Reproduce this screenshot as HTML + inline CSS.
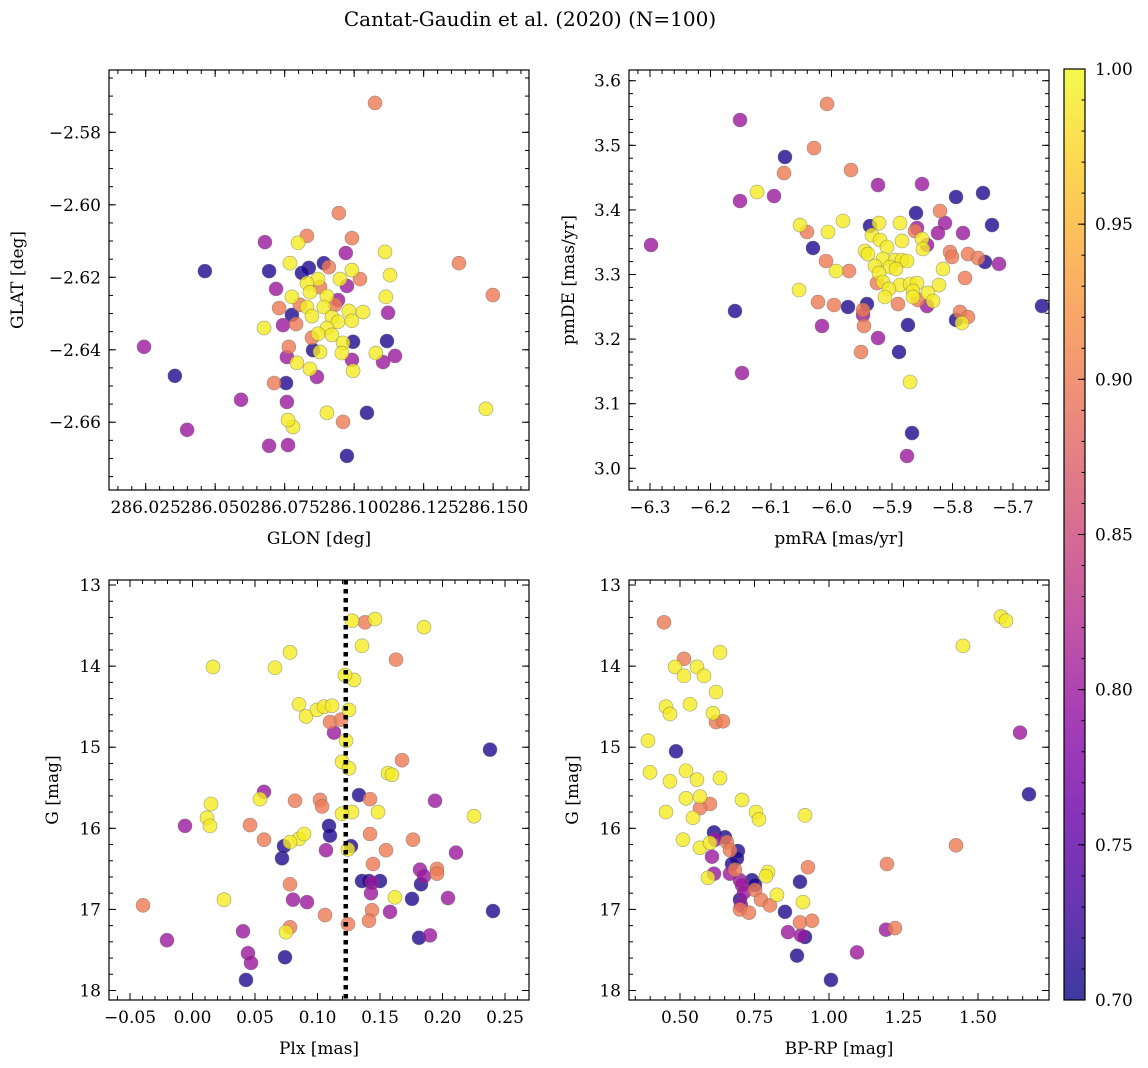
<!DOCTYPE html>
<html><head><meta charset="utf-8"><title>Cantat-Gaudin et al. (2020)</title>
<style>
html,body{margin:0;padding:0;background:#fff;}
svg{display:block;font-family:"DejaVu Serif","Liberation Serif",serif;}
</style></head>
<body>
<svg id="fig" xmlns="http://www.w3.org/2000/svg" width="1148" height="1068" viewBox="0 0 1148 1068">
<rect width="1148" height="1068" fill="#fff"/>
<text x="530" y="26" font-size="20" text-anchor="middle">Cantat-Gaudin et al. (2020) (N=100)</text>
</svg>
<script>
// ---------- Panel 1: GLON / GLAT ----------
const p1Lon=[286.1075,286.0945,286.0992,286.0679,286.0798,286.083,286.097,286.1111,286.0463,286.0694,286.0769,286.0837,286.0812,286.0891,286.0909,286.0992,286.1021,286.0949,286.087,286.083,286.1129,286.1377,286.1499,286.0719,286.0974,286.0841,286.0877,286.1114,286.0776,286.0902,286.0942,286.073,286.0805,286.083,286.0891,286.0931,286.0981,286.1032,286.1122,286.0776,286.0848,286.092,286.0942,286.0992,286.0676,286.0744,286.0791,286.0902,286.087,286.092,286.0848,286.096,286.0996,286.1118,286.0765,286.0852,286.0877,286.0956,286.1078,286.1147,286.1104,286.0758,286.0992,286.0794,286.0841,286.0996,286.0866,286.0244,286.0355,286.0399,286.0593,286.0694,286.0762,286.0758,286.078,286.0762,286.0902,286.096,286.0974,286.1046,286.1474,286.0755,286.0712];
const p1Lat=[-2.5719,-2.6023,-2.6092,-2.6103,-2.6105,-2.6086,-2.6133,-2.613,-2.6183,-2.6183,-2.6161,-2.6174,-2.6188,-2.6161,-2.6172,-2.618,-2.6205,-2.6205,-2.6205,-2.6216,-2.6194,-2.6161,-2.6249,-2.6232,-2.6224,-2.6241,-2.6227,-2.6254,-2.6254,-2.6252,-2.6263,-2.6285,-2.6276,-2.6282,-2.6282,-2.6276,-2.6293,-2.6296,-2.6298,-2.6304,-2.6307,-2.631,-2.6323,-2.632,-2.634,-2.6332,-2.6329,-2.634,-2.6356,-2.6359,-2.6367,-2.6381,-2.6378,-2.6376,-2.6392,-2.6401,-2.6406,-2.6409,-2.6409,-2.6417,-2.6434,-2.642,-2.6428,-2.6436,-2.6453,-2.6458,-2.6475,-2.6392,-2.6472,-2.6621,-2.6538,-2.6665,-2.6663,-2.6544,-2.6613,-2.6594,-2.6574,-2.6599,-2.6693,-2.6574,-2.6563,-2.6492,-2.6492];
const p1Prob=[0.9,0.9,0.9,0.8,0.99,0.9,0.8,0.99,0.71,0.71,0.99,0.71,0.71,0.71,0.9,0.99,0.9,0.99,0.99,0.99,0.99,0.9,0.9,0.8,0.8,0.99,0.9,0.99,0.99,0.99,0.8,0.9,0.9,0.99,0.99,0.9,0.99,0.99,0.8,0.71,0.99,0.99,0.99,0.99,0.99,0.8,0.9,0.99,0.99,0.99,0.9,0.99,0.71,0.71,0.9,0.71,0.99,0.99,0.99,0.8,0.8,0.8,0.8,0.99,0.99,0.99,0.8,0.8,0.71,0.8,0.8,0.8,0.8,0.8,0.99,0.99,0.99,0.9,0.71,0.71,0.99,0.71,0.9];
const p1XTicks=[286.025,286.05,286.075,286.1,286.125,286.15];
const p1YTicks=[-2.58,-2.6,-2.62,-2.64,-2.66];

// ---------- Panel 2: pmRA / pmDE ----------
const p2Pmra=[-6.052,-6.0405,-6.0058,-5.981,-5.9364,-5.9215,-5.8868,-5.8603,-5.8207,-5.7942,-5.8587,-5.862,-5.8124,-5.824,-5.7826,-5.9331,-5.9198,-5.9083,-5.8835,-5.8504,-5.8421,-5.8488,-6.0306,-5.9446,-5.9397,-5.8041,-5.8008,-5.7744,-5.7579,-5.9149,-5.895,-5.8835,-5.8752,-6.0091,-5.9281,-5.9033,-5.8934,-5.8157,-5.9926,-5.9711,-5.9215,-5.7793,-5.9248,-5.9149,-5.8868,-5.8702,-5.8587,-5.8223,-5.905,-6.0537,-5.8653,-5.8405,-5.9116,-5.8653,-6.0223,-5.9959,-5.8901,-5.857,-5.8322,-5.8421,-5.9727,-5.9413,-5.9479,-5.9479,-5.7876,-5.7744,-5.7843,-5.7942,-6.0157,-5.9463,-5.8736,-5.9231,-6.2983,-6.1512,-6.0074,-6.1512,-6.0289,-6.0769,-6.0785,-5.9678,-5.9231,-5.8504,-6.095,-6.1231,-5.7496,-5.7347,-5.7463,-5.7231,-5.6521,-6.1595,-6.1479,-5.8884,-5.9512,-5.8702,-5.8669,-5.8752];
const p2Pmde=[3.3766,3.3658,3.3658,3.3828,3.3751,3.3797,3.3797,3.3952,3.3983,3.42,3.372,3.3673,3.3797,3.3642,3.3642,3.3611,3.3534,3.3426,3.3519,3.355,3.3457,3.3395,3.341,3.3364,3.3317,3.3348,3.3271,3.3317,3.3255,3.324,3.3224,3.3224,3.3209,3.3209,3.3132,3.3116,3.3085,3.3085,3.3054,3.3054,3.3023,3.2946,3.2868,3.2884,3.2837,3.2853,3.2868,3.2837,3.2776,3.276,3.2745,3.2714,3.2652,3.2652,3.2574,3.2528,3.2543,3.2605,3.259,3.2512,3.2497,3.2543,3.245,3.2373,3.242,3.2342,3.2249,3.2296,3.2203,3.2203,3.2218,3.2017,3.3457,3.4138,3.564,3.5392,3.4958,3.4819,3.4571,3.4618,3.4385,3.4401,3.4215,3.4277,3.4262,3.3766,3.3194,3.3163,3.2512,3.2435,3.1475,3.18,3.18,3.1336,3.0546,3.019];
const p2Prob=[0.99,0.9,0.99,0.99,0.71,0.99,0.99,0.71,0.9,0.71,0.8,0.9,0.8,0.8,0.8,0.99,0.99,0.99,0.99,0.99,0.8,0.99,0.71,0.99,0.99,0.9,0.9,0.9,0.9,0.99,0.99,0.99,0.99,0.9,0.99,0.99,0.99,0.99,0.99,0.9,0.99,0.9,0.9,0.99,0.99,0.99,0.99,0.99,0.99,0.99,0.99,0.99,0.99,0.99,0.9,0.9,0.9,0.9,0.99,0.8,0.71,0.71,0.9,0.8,0.9,0.9,0.99,0.71,0.8,0.9,0.71,0.8,0.8,0.8,0.9,0.8,0.9,0.71,0.9,0.9,0.8,0.8,0.8,0.99,0.71,0.71,0.71,0.8,0.71,0.71,0.8,0.71,0.9,0.99,0.71,0.8];
const p2XTicks=[-6.3,-6.2,-6.1,-6.0,-5.9,-5.8,-5.7];
const p2YTicks=[3.0,3.1,3.2,3.3,3.4,3.5,3.6];

// ---------- Panel 3: Plx / G ----------
const p3Plx=[0.0164,0.066,0.078,0.1276,0.146,0.1852,0.1356,0.1292,0.0852,0.0908,0.0996,0.1052,0.1116,0.122,0.1196,0.1252,0.1228,0.1276,0.0148,0.0116,0.014,0.0252,0.0748,0.0852,0.0892,0.078,0.054,0.1564,0.1596,0.1484,0.1244,0.1196,0.162,0.2252,0.1252,
-0.0396,0.138,0.1628,0.11,0.1188,0.1676,0.0572,0.046,0.082,0.102,0.1036,0.142,0.142,0.1444,0.1548,0.1436,0.1764,0.1956,0.1956,0.106,0.1412,0.1244,0.078,0.078,
-0.0204,0.0404,0.0444,0.0468,0.0572,-0.006,0.0804,0.0916,0.1068,0.1132,0.1436,0.1428,0.158,0.182,0.19,0.194,0.2108,0.2044,0.1852,
0.238,0.2404,0.1092,0.11,0.0716,0.0732,0.1268,0.1332,0.1356,0.1412,0.15,0.1756,0.1828,0.1812,0.0428,0.074];
const p3G=[14.01,14.02,13.83,13.44,13.42,13.52,13.75,14.17,14.47,14.62,14.54,14.5,14.49,14.11,15.18,15.26,14.92,15.8,15.7,15.87,15.97,16.88,17.28,16.13,16.07,16.17,15.64,15.32,15.34,15.8,16.26,15.82,16.85,15.85,14.54,
16.95,13.46,13.92,14.69,14.66,15.16,16.14,15.96,15.66,15.65,15.73,15.64,16.07,16.44,16.27,17.01,16.14,16.5,16.56,17.07,17.14,17.18,17.22,16.69,
17.38,17.27,17.54,17.66,15.55,15.97,16.88,16.91,16.27,14.82,16.67,16.8,17.03,16.51,17.32,15.66,16.3,16.86,16.59,
15.03,17.02,15.97,16.09,16.37,16.22,16.22,15.59,16.65,16.65,16.65,16.87,16.69,17.35,17.87,17.59];
const p3Prob=[0.99,0.99,0.99,0.99,0.99,0.99,0.99,0.99,0.99,0.99,0.99,0.99,0.99,0.99,0.99,0.99,0.99,0.99,0.99,0.99,0.99,0.99,0.99,0.99,0.99,0.99,0.99,0.99,0.99,0.99,0.99,0.99,0.99,0.99,0.99,
0.9,0.9,0.9,0.9,0.9,0.9,0.9,0.9,0.9,0.9,0.9,0.9,0.9,0.9,0.9,0.9,0.9,0.9,0.9,0.9,0.9,0.9,0.9,0.9,
0.8,0.8,0.8,0.8,0.8,0.8,0.8,0.8,0.8,0.8,0.8,0.8,0.8,0.8,0.8,0.8,0.8,0.8,0.8,
0.71,0.71,0.71,0.71,0.71,0.71,0.71,0.71,0.71,0.71,0.71,0.71,0.71,0.71,0.71,0.71];
const p3XTicks=[-0.05,0.0,0.05,0.1,0.15,0.2,0.25];
const p3YTicks=[13,14,15,16,17,18];
const p3PlxCut=[0.1226];

// ---------- Panel 4: BP-RP / G ----------
const p4Bprp=[0.3926,0.3993,0.453,0.4664,0.4664,0.453,0.4832,0.5134,0.5336,0.5201,0.5201,0.5101,0.557,0.557,0.5671,0.5436,0.5805,0.6342,0.6107,0.6208,0.6342,0.7081,0.755,0.7651,0.7953,0.7886,0.8255,0.9195,0.9128,1.5772,1.594,1.4497,0.5671,0.6007,0.594,
0.4463,0.5134,0.6208,0.6443,0.6007,0.6577,0.6678,0.6846,0.7517,0.7013,0.7315,0.9027,0.943,0.9295,1.1946,1.4262,0.5671,0.7718,0.802,1.2215,
1.641,0.6074,0.6141,0.6678,0.7013,0.7081,0.7148,0.8624,0.906,1.094,1.1913,0.6174,0.7047,
1.6711,0.4866,0.6141,0.651,0.6946,0.6913,0.7416,0.7517,0.7013,0.9027,0.8926,0.9195,1.0067,0.6745,0.8523];
const p4G=[14.92,15.31,14.5,14.59,15.42,15.8,14.01,14.12,14.47,15.29,15.63,16.14,14.01,15.4,15.61,15.87,14.12,13.83,14.58,14.32,15.38,15.65,15.8,15.89,16.54,16.59,16.82,15.84,16.91,13.39,13.44,13.75,16.24,16.18,16.61,
13.46,13.91,14.69,14.68,15.7,16.17,16.27,16.51,16.76,17.0,17.04,17.16,17.14,16.48,16.44,16.21,15.75,16.88,16.95,17.23,
14.82,16.35,16.56,16.56,16.64,16.7,16.79,17.28,17.32,17.53,17.25,16.14,16.95,
15.58,15.05,16.05,16.11,16.28,16.37,16.64,16.7,16.88,16.66,17.57,17.34,17.87,16.44,17.03];
const p4Prob=[0.99,0.99,0.99,0.99,0.99,0.99,0.99,0.99,0.99,0.99,0.99,0.99,0.99,0.99,0.99,0.99,0.99,0.99,0.99,0.99,0.99,0.99,0.99,0.99,0.99,0.99,0.99,0.99,0.99,0.99,0.99,0.99,0.99,0.99,0.99,
0.9,0.9,0.9,0.9,0.9,0.9,0.9,0.9,0.9,0.9,0.9,0.9,0.9,0.9,0.9,0.9,0.9,0.9,0.9,0.9,
0.8,0.8,0.8,0.8,0.8,0.8,0.8,0.8,0.8,0.8,0.8,0.8,0.8,
0.71,0.71,0.71,0.71,0.71,0.71,0.71,0.71,0.71,0.71,0.71,0.71,0.71,0.71,0.71];
const p4XTicks=[0.5,0.75,1.0,1.25,1.5];
const p4YTicks=[13,14,15,16,17,18];

// ---------- Colorbar ----------
const cbTicks=[0.70,0.75,0.80,0.85,0.90,0.95,1.00];
const cbRange=[0.7,1.0];

// ---------- helpers ----------
const NS='http://www.w3.org/2000/svg';
const svg=document.getElementById('fig');
const TF=17;
function mk(tag,attrs,parent){const e=document.createElementNS(NS,tag);for(const k in attrs)e.setAttribute(k,attrs[k]);(parent||svg).appendChild(e);return e;}
function lin(d0,d1,r0,r1){return v=>r0+(v-d0)/(d1-d0)*(r1-r0);}
const plasma=[[13,8,135],[65,4,157],[106,0,168],[143,13,164],[177,42,144],[204,71,120],[225,100,98],[242,132,75],[252,166,54],[252,206,37],[240,249,33]];
function cmap(t){t=Math.max(0,Math.min(1,t));const s=t*10,i=Math.min(9,Math.floor(s)),f=s-i;const a=plasma[i],b=plasma[i+1];return 'rgb('+[0,1,2].map(k=>Math.round(a[k]+(b[k]-a[k])*f)).join(',')+')';}
function fmtMinus(s){return s.replace('-','\u2212');}

function panel(o){
  const g=mk('g',{});
  
  
  const sx=lin(o.xd[0],o.xd[1],o.x0,o.x1), sy=lin(o.yd[0],o.yd[1],o.y0,o.y1);
  const pts=mk('g',{},g);
  
  
  const idx=o.xs.map((_,i)=>i).sort((a,b)=>o.cs[a]-o.cs[b]);
  idx.forEach(i=>{
    const c=mk('circle',{cx:sx(o.xs[i]),cy:sy(o.ys[i]),r:7,fill:cmap((o.cs[i]-cbRange[0])/(cbRange[1]-cbRange[0])),'fill-opacity':0.8,stroke:'#666','stroke-opacity':0.6,'stroke-width':0.6},pts);
    
    
  });
  if(o.extra) o.extra(g,sx,sy);
  const fr=mk('rect',{x:o.x0,y:o.y0,width:o.x1-o.x0,height:o.y1-o.y0,fill:'none',stroke:'#000','stroke-width':1.2},g);
  
  
  const tk=mk('g',{stroke:'#000','stroke-width':1},g);
  
  
  const lo=Math.min(o.xd[0],o.xd[1]),hi=Math.max(o.xd[0],o.xd[1]);
  for(let k=Math.ceil(lo/o.xm-1e-6);k*o.xm<=hi+1e-9;k++){const X=sx(k*o.xm);mk('line',{x1:X,x2:X,y1:o.y1,y2:o.y1-4},tk);mk('line',{x1:X,x2:X,y1:o.y0,y2:o.y0+4},tk);}
  const ylo=Math.min(o.yd[0],o.yd[1]),yhi=Math.max(o.yd[0],o.yd[1]);
  for(let k=Math.ceil(ylo/o.ym-1e-6);k*o.ym<=yhi+1e-9;k++){const Y=sy(k*o.ym);mk('line',{x1:o.x0,x2:o.x0+4,y1:Y,y2:Y},tk);mk('line',{x1:o.x1,x2:o.x1-4,y1:Y,y2:Y},tk);}
  o.xt.forEach(v=>{const X=sx(v);mk('line',{x1:X,x2:X,y1:o.y1,y2:o.y1-7},tk);mk('line',{x1:X,x2:X,y1:o.y0,y2:o.y0+7},tk);
    const t=mk('text',{x:X,y:o.y1+23,'font-size':TF,'text-anchor':'middle'},g);t.textContent=fmtMinus(o.xf(v));
    
    });
  o.yt.forEach(v=>{const Y=sy(v);mk('line',{x1:o.x0,x2:o.x0+7,y1:Y,y2:Y},tk);mk('line',{x1:o.x1,x2:o.x1-7,y1:Y,y2:Y},tk);
    const t=mk('text',{x:o.x0-8,y:Y+6,'font-size':TF,'text-anchor':'end'},g);t.textContent=fmtMinus(o.yf(v));
    
    });
  const xl=mk('text',{x:(o.x0+o.x1)/2,y:o.y1+54,'font-size':17,'text-anchor':'middle'},g);xl.textContent=o.xlabel;
  
  
  const yl=mk('text',{x:0,y:0,'font-size':17,'text-anchor':'middle',transform:'translate('+o.ylx+','+((o.y0+o.y1)/2)+') rotate(-90)'},g);yl.textContent=o.ylabel;
  
  
}

panel({name:'glon-glat-panel',x0:109,x1:529,y0:70,y1:490,xd:[286.0118,286.1629],yd:[-2.5628,-2.6787],
  xt:p1XTicks,yt:p1YTicks,xm:0.005,ym:0.005,xf:v=>v.toFixed(3),yf:v=>v.toFixed(2),
  xlabel:'GLON [deg]',ylabel:'GLAT [deg]',ylx:23,xs:p1Lon,ys:p1Lat,cs:p1Prob});
panel({name:'pm-panel',x0:629,x1:1049,y0:70,y1:490,xd:[-6.3347,-5.6405],yd:[3.6166,2.9664],
  xt:p2XTicks,yt:p2YTicks,xm:0.02,ym:0.02,xf:v=>v.toFixed(1),yf:v=>v.toFixed(1),
  xlabel:'pmRA [mas/yr]',ylabel:'pmDE [mas/yr]',ylx:574,xs:p2Pmra,ys:p2Pmde,cs:p2Prob});
panel({name:'plx-g-panel',x0:109,x1:529,y0:580,y1:1000,xd:[-0.0668,0.2692],yd:[12.938,18.117],
  xt:p3XTicks,yt:p3YTicks,xm:0.01,ym:0.2,xf:v=>v.toFixed(2),yf:v=>String(v),
  xlabel:'Plx [mas]',ylabel:'G [mag]',ylx:58,xs:p3Plx,ys:p3G,cs:p3Prob,
  extra:(g,sx,sy)=>{p3PlxCut.forEach(v=>{const l=mk('line',{x1:sx(v),x2:sx(v),y1:580,y2:1000,stroke:'#000','stroke-width':4.5,'stroke-dasharray':'4.5,4.5'},g);
    
    });}});
panel({name:'cmd-panel',x0:629,x1:1049,y0:580,y1:1000,xd:[0.3289,1.7383],yd:[12.938,18.117],
  xt:p4XTicks,yt:p4YTicks,xm:0.05,ym:0.2,xf:v=>v.toFixed(2),yf:v=>String(v),
  xlabel:'BP-RP [mag]',ylabel:'G [mag]',ylx:578,xs:p4Bprp,ys:p4G,cs:p4Prob});

(function(){
  const x0=1064,x1=1085,yTop=69,yBot=1000;
  const g=mk('g',{});
  
  
  const defs=mk('defs',{},g);
  const lg=mk('linearGradient',{id:'cbg',x1:0,y1:1,x2:0,y2:0},defs);
  plasma.forEach((c,i)=>mk('stop',{offset:(i/10),'stop-color':'rgb('+c.join(',')+')','stop-opacity':0.8},lg));
  mk('rect',{x:x0,y:yTop,width:x1-x0,height:yBot-yTop,fill:'url(#cbg)'},g);
  mk('rect',{x:x0,y:yTop,width:x1-x0,height:yBot-yTop,fill:'none',stroke:'#000','stroke-width':1.2},g);
  const sy=lin(cbRange[0],cbRange[1],yBot,yTop);
  for(let k=70;k<=100;k++){const Y=sy(k/100);mk('line',{x1:x1,x2:x1-3.5,y1:Y,y2:Y,stroke:'#000','stroke-width':1},g);}
  cbTicks.forEach(v=>{const Y=sy(v);mk('line',{x1:x1,x2:x1-7,y1:Y,y2:Y,stroke:'#000','stroke-width':1},g);
    const t=mk('text',{x:x1+10,y:Y+6,'font-size':TF},g);t.textContent=v.toFixed(2);
    
    });
})();
</script>
</body></html>
